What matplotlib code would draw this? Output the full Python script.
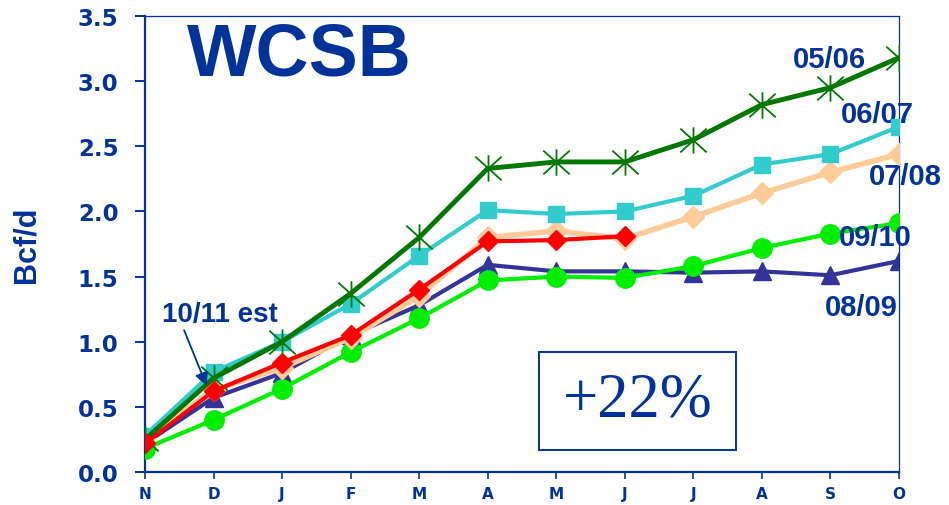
import numpy as np
import matplotlib.pyplot as plt
from matplotlib.patches import Rectangle
from matplotlib.path import Path

months = ["N", "D", "J", "F", "M", "A", "M", "J", "J", "A", "S", "O"]

s0506 = [0.25, 0.72, 1.00, 1.37, 1.80, 2.33, 2.38, 2.38, 2.55, 2.82, 2.95, 3.18]
s0607 = [0.28, 0.77, 1.00, 1.29, 1.66, 2.01, 1.98, 2.00, 2.12, 2.36, 2.44, 2.65]
s0708 = [0.25, 0.63, 0.80, 1.03, 1.35, 1.80, 1.85, 1.79, 1.96, 2.14, 2.30, 2.44]
s0809 = [0.22, 0.57, 0.76, 1.05, 1.28, 1.59, 1.54, 1.54, 1.53, 1.54, 1.51, 1.62]
s0910 = [0.18, 0.40, 0.64, 0.92, 1.18, 1.47, 1.50, 1.49, 1.58, 1.72, 1.83, 1.91]
s1011 = [0.22, 0.62, 0.84, 1.05, 1.40, 1.77, 1.78, 1.81]

navy = "#003399"

# asterisk marker: an X with a vertical stroke through it
star = Path([(-1, -0.9), (1, 0.9), (-1, 0.9), (1, -0.9), (0, -1), (0, 1)],
            [Path.MOVETO, Path.LINETO, Path.MOVETO, Path.LINETO,
             Path.MOVETO, Path.LINETO])

fig = plt.figure(figsize=(9.49, 5.06), dpi=100)
ax = fig.add_axes([0.1528, 0.0652, 0.7945, 0.9012])

x = np.arange(len(months))

ax.plot(x, s0809, color="#333399", lw=3, marker="^", ms=13, zorder=2)
ax.plot(x, s0910, color="#00EE00", lw=3, marker="o", ms=14, zorder=3)
ax.plot(x, s0708, color="#FFCC99", lw=4, marker="D", ms=11, zorder=4)
ax.plot(x, s0607, color="#33CCCC", lw=3, marker="s", ms=11, zorder=5)
ax.plot(x, s0506, color="#007700", lw=3.5, marker=star, ms=19,
        mew=1.3, mfc="none", zorder=6)
ax.plot(x[:len(s1011)], s1011, color="#FF0000", lw=3, marker="D", ms=10,
        zorder=7)

ax.set_xlim(0, 11)
ax.set_ylim(0, 3.5)
ax.set_xticks(x)
ax.set_xticklabels(months)
ax.set_yticks(np.arange(0, 3.51, 0.5))
ax.set_yticklabels([f"{v:.1f}" for v in np.arange(0, 3.51, 0.5)])

for sp in ["left", "bottom"]:
    ax.spines[sp].set_color(navy)
    ax.spines[sp].set_linewidth(1.6)
for sp in ["top", "right"]:
    ax.spines[sp].set_color(navy)
    ax.spines[sp].set_linewidth(0.9)

ax.tick_params(axis="y", colors=navy, length=7, width=1.4, pad=12,
               labelsize=16.5)
ax.tick_params(axis="x", colors=navy, length=5, width=1.2, pad=5,
               labelsize=11)
for lab in ax.get_xticklabels() + ax.get_yticklabels():
    lab.set_fontweight("bold")
    lab.set_family("DejaVu Sans")

ax.set_ylabel("Bcf/d", color=navy, fontsize=22, fontweight="bold",
              family="Liberation Sans", labelpad=26)

fig.text(0.315, 0.89, "WCSB", color=navy, fontsize=53, fontweight="bold",
         family="Liberation Sans", ha="center", va="center")

lab_kw = dict(color=navy, fontsize=21, fontweight="bold",
              family="Liberation Sans", ha="center", va="center",
              clip_on=False)
ax.text(9.99, 3.17, "05/06", **lab_kw)
ax.text(10.69, 2.75, "06/07", **lab_kw)
ax.text(11.09, 2.27, "07/08", **lab_kw)
ax.text(10.66, 1.80, "09/10", **lab_kw)
ax.text(10.45, 1.27, "08/09", **lab_kw)

ax.annotate("10/11 est", xy=(0.9, 0.66), xytext=(0.25, 1.21),
            color=navy, fontsize=20, fontweight="bold",
            family="Liberation Sans", ha="left", va="center",
            arrowprops=dict(arrowstyle="-|>", color=navy, lw=1.3,
                            shrinkA=0, shrinkB=0,
                            relpos=(0.18, 0.0)), zorder=8)

ax.add_patch(Rectangle((0.5225, 0.0482), 0.2613, 0.215,
                       transform=ax.transAxes, fill=False,
                       edgecolor=navy, lw=1.4, zorder=1))
ax.text(0.653, 0.156, "+22%", transform=ax.transAxes, color=navy,
        fontsize=45, family="Liberation Serif", ha="center", va="center")

fig.savefig("out.png", dpi=100)
